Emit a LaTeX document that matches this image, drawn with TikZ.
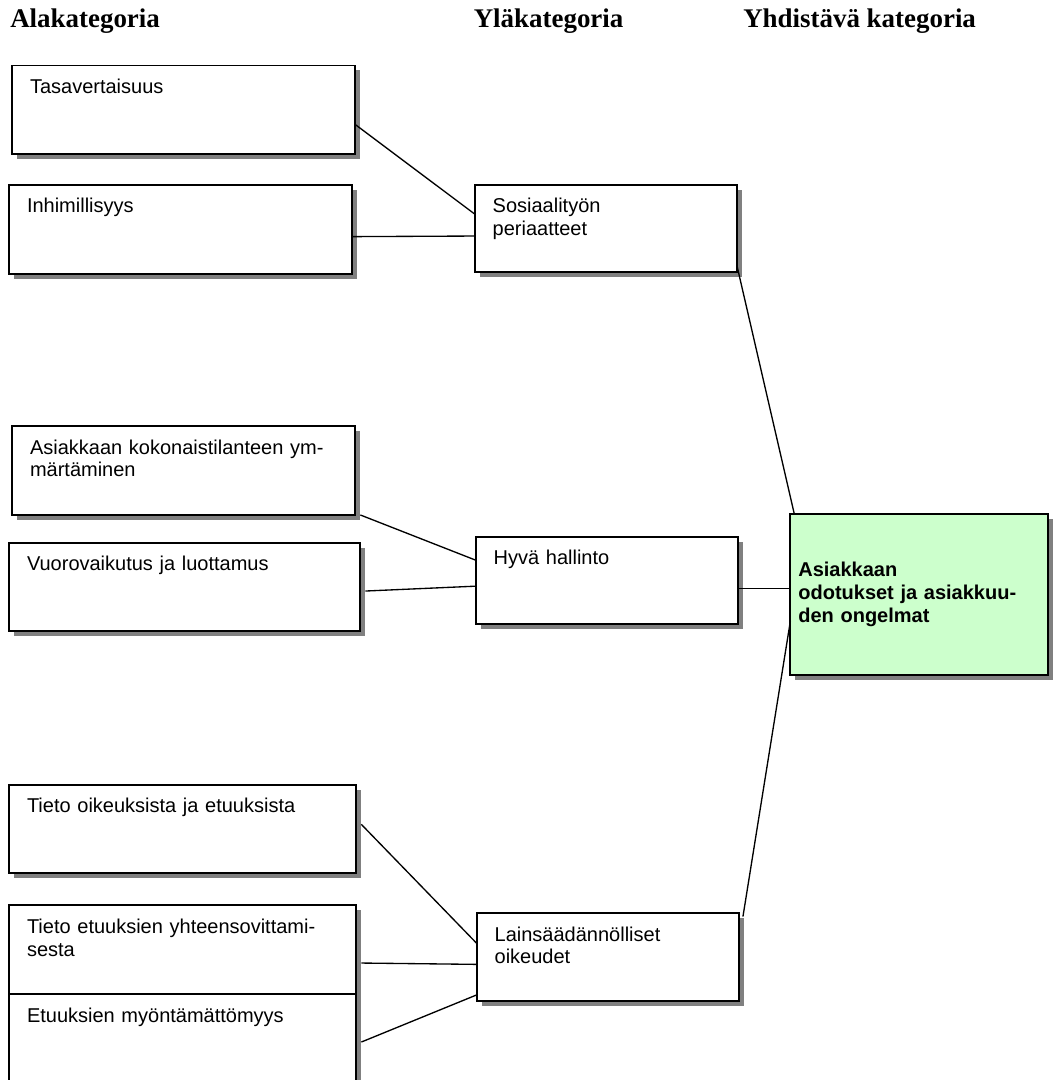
\documentclass[tikz,border=0pt]{standalone}
\usepackage{fontspec}
\setmainfont{Liberation Serif}
\newfontfamily\boxfont{Liberation Sans}
\usepackage{tikz}
\usetikzlibrary{
  positioning,
  shadows
}
\definecolor{yhdgreen}{RGB}{204,255,204}
\definecolor{shadowgray}{RGB}{128,128,128}
\tikzset{
  alabox/.style={draw, line width=1.4pt, fill=white, anchor=north west,
    outer sep=0pt,
    drop shadow={shadow xshift=3.75pt, shadow yshift=-3.75pt,
      fill=shadowgray, opacity=1},
    inner xsep=13.5pt, inner ysep=0pt, text width=230.25pt, align=left,
    text height=21pt, text depth=45.5pt,
    font=\boxfont\fontsize{15}{17}\selectfont},
  ylabox/.style={alabox, text width=169.5pt, text depth=44.6pt},
  yhdbox/.style={alabox, fill=yhdgreen, inner xsep=6pt, text width=181.5pt,
    text height=47pt, text depth=73.75pt,
    font=\boxfont\bfseries\fontsize{15}{17}\selectfont},
  headtext/.style={anchor=base west, inner sep=0pt,
    font=\bfseries\fontsize{20.2}{24}\selectfont},
  conn/.style={line width=1pt},
}

\begin{document}
\begin{tikzpicture}[x=0.75pt, y=-0.75pt]
  \useasboundingbox (0,0) rectangle (1057,1080);

  % Headers
  \node[headtext] (hala) at (10,27.5) {Alakategoria};
  \node[headtext] (hyla) at (473.5,27.5) {Yläkategoria};
  \node[headtext] (hyhd) at (743,27.5) {Yhdistävä kategoria};

  % Left column: subcategories
  \node[alabox] (tasa) at (12,65.5) {Tasavertaisuus};
  \node[alabox, below=23.1pt of tasa.south west, anchor=north west,
        xshift=-2.25pt] (inhim) {Inhimillisyys};
  \node[alabox, below=114.5pt of inhim.south west, anchor=north west,
        xshift=2.25pt] (asiak) {Asiakkaan kokonaistilanteen ym-\\märtäminen};
  \node[alabox, below=20.8pt of asiak.south west, anchor=north west,
        xshift=-2.25pt, text width=236.25pt] (vuoro) {Vuorovaikutus ja luottamus};
  \node[alabox, below=115pt of vuoro.south west, anchor=north west,
        text width=233.25pt] (tietooik) {Tieto oikeuksista ja etuuksista};
  \node[alabox, below=24pt of tietooik.south west, anchor=north west,
        text width=233.25pt] (tietoet) {Tieto etuuksien yhteensovittami-\\sesta};
  \node[alabox, below=0pt of tietoet.south west, anchor=north west,
        text width=233.25pt, text depth=54pt] (etuuk) {Etuuksien myöntämättömyys};

  % Middle column: upper categories
  \node[ylabox, right=92pt of inhim.north east, anchor=north west] (sos)
    {Sosiaalityön\\periaatteet};
  \node[ylabox, below=198.3pt of sos.south west, anchor=north west,
        xshift=0.75pt] (hyva) {Hyvä hallinto};
  \node[ylabox, below=216.75pt of hyva.south west, anchor=north west,
        xshift=0.75pt] (laki) {Lainsäädännölliset\\oikeudet};

  % Right column: combining category
  \node[yhdbox, right=39.5pt of hyva.north east, anchor=north west,
        yshift=17pt] (yhd) {Asiakkaan\\odotukset ja asiakkuu-\\den ongelmat};

  % Connectors
  \draw[conn] ([xshift=0.5pt,yshift=-11.25pt]tasa.east) -- ([yshift=11pt]sos.west);
  \draw[conn] ([yshift=-5.5pt]inhim.east) -- ([yshift=-5.5pt]sos.west);
  \draw[conn] ([xshift=4pt]asiak.south east) -- ([yshift=15.3pt]hyva.west);
  \draw[conn] ([xshift=4pt,yshift=-3pt]vuoro.east) -- ([yshift=-4.2pt]hyva.west);
  \draw[conn] ([xshift=4pt,yshift=3.5pt]tietooik.east) -- ([yshift=10.3pt]laki.west);
  \draw[conn] ([xshift=4pt,yshift=-10pt]tietoet.east) -- ([yshift=-5.5pt]laki.west);
  \draw[conn] ([xshift=4pt,yshift=1.5pt]etuuk.east) -- ([yshift=-28.4pt]laki.west);
  \draw[conn] ([yshift=6pt]sos.south east) -- ([xshift=3pt]yhd.north west);
  \draw[conn] ([yshift=-5.7pt]hyva.east) -- ([yshift=-5.7pt]hyva.east -| yhd.west);
  \draw[conn] ([xshift=3.2pt,yshift=-2.5pt]laki.north east) -- ([yshift=-19.9pt]yhd.west);
\end{tikzpicture}
\end{document}
